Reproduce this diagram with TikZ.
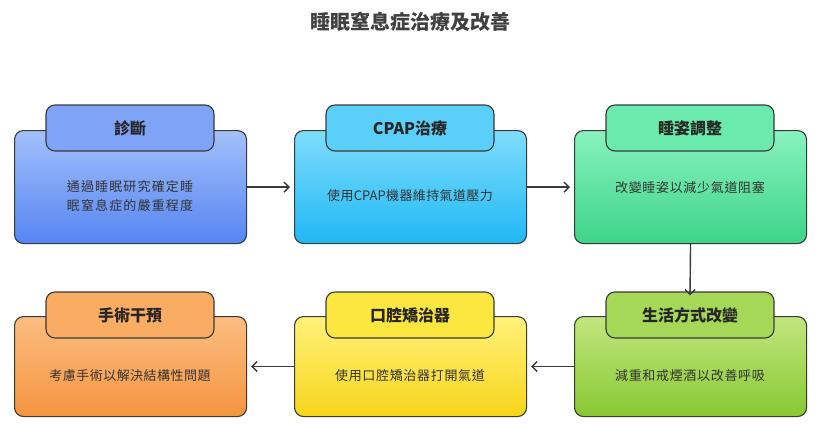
\documentclass[tikz,border=0pt]{standalone}
\usepackage{fontspec}
\setmainfont{Noto Sans CJK TC}
\XeTeXlinebreaklocale "zh"
\XeTeXlinebreakskip=0pt plus 1pt
\usetikzlibrary{positioning,arrows.meta}

\definecolor{edgegray}{HTML}{3A3A3A}
\definecolor{blueA}{HTML}{A3C0FA}\definecolor{blueB}{HTML}{5585F2}\definecolor{blueT}{HTML}{7FA3F6}
\definecolor{cyanA}{HTML}{7FDDFC}\definecolor{cyanB}{HTML}{1FB8F4}\definecolor{cyanT}{HTML}{5ACFF9}
\definecolor{mintA}{HTML}{88F2BE}\definecolor{mintB}{HTML}{3DD488}\definecolor{mintT}{HTML}{6AEAAC}
\definecolor{limeA}{HTML}{C2E67E}\definecolor{limeB}{HTML}{88C932}\definecolor{limeT}{HTML}{A6D858}
\definecolor{yelA}{HTML}{FFF27A}\definecolor{yelB}{HTML}{F8D51A}\definecolor{yelT}{HTML}{FCE640}
\definecolor{orA}{HTML}{FCBD80}\definecolor{orB}{HTML}{F59540}\definecolor{orT}{HTML}{F9AC62}
\tikzset{
  card/.style={draw=edgegray, line width=1.1pt, rounded corners=9pt, minimum width=232pt, minimum height=#1, anchor=north west},
  tab/.style={draw=edgegray, line width=1.1pt, rounded corners=9pt, minimum width=168pt, minimum height=46pt, font=\bfseries\fontsize{16}{18}\selectfont, text=black!85},
  desc/.style={text width=185pt, align=center, font=\fontsize{13}{19}\selectfont, text=black!80},
  flow/.style={-{Straight Barb[length=5pt,width=10pt]}, draw=edgegray, line width=1.4pt}
}

\begin{document}
\begin{tikzpicture}[x=1pt, y=-1pt]
  \useasboundingbox (0,0) rectangle (820,437);
  \node[font=\bfseries\fontsize{20}{24}\selectfont, text=black!75] (title) at (410,22) {睡眠窒息症治療及改善};

  % upper row
  \node[card=113pt, top color=blueA, bottom color=blueB] (diag) at (14,130) {};
  \node[card=113pt, top color=cyanA, bottom color=cyanB] (cpap) at (294,130) {};
  \node[card=113pt, top color=mintA, bottom color=mintB] (pose) at (574,130) {};
  \node[tab, fill=blueT] (diagT) at (130,128) {診斷};
  \node[tab, fill=cyanT] (cpapT) at (410,128) {CPAP治療};
  \node[tab, fill=mintT] (poseT) at (690,128) {睡姿調整};
  \node[desc] (diagD) at (130,196) {通過睡眠研究確定睡眠窒息症的嚴重程度};
  \node[desc] (cpapD) at (410,196) {使用CPAP機器維持氣道壓力};
  \node[desc] (poseD) at (690,188) {改變睡姿以減少氣道阻塞};

  % lower row
  \node[card=100pt, top color=orA, bottom color=orB] (surg) at (14,316) {};
  \node[card=100pt, top color=yelA, bottom color=yelB] (oral) at (294,316) {};
  \node[card=100pt, top color=limeA, bottom color=limeB] (life) at (574,316) {};
  \node[tab, fill=orT] (surgT) at (130,315) {手術干預};
  \node[tab, fill=yelT] (oralT) at (410,315) {口腔矯治器};
  \node[tab, fill=limeT] (lifeT) at (690,315) {生活方式改變};
  \node[desc] (surgD) at (130,376) {考慮手術以解決結構性問題};
  \node[desc] (oralD) at (410,376) {使用口腔矯治器打開氣道};
  \node[desc] (lifeD) at (690,376) {減重和戒煙酒以改善呼吸};

  \draw[flow] (diag.east) -- ([xshift=-4pt]cpap.west);
  \draw[flow] (cpap.east) -- ([xshift=-4pt]pose.west);
  \draw[flow] (pose.south) -- ([yshift=-4pt]lifeT.north);
  \draw[flow] (life.west) -- ([xshift=4pt]oral.east);
  \draw[flow] (oral.west) -- ([xshift=4pt]surg.east);
\end{tikzpicture}
\end{document}
